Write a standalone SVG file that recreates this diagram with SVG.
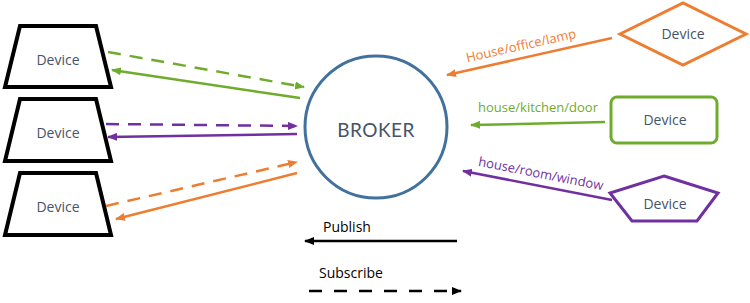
<svg xmlns="http://www.w3.org/2000/svg" width="750" height="303" viewBox="0 0 750 303">
<style>
.lbl{font-family:"Open Sans","Noto Sans",sans-serif;font-size:14px;fill:#44546A;text-anchor:middle}
.trap{fill:#fff;stroke:#000;stroke-width:4;stroke-linejoin:miter}
.ln{fill:none;stroke-width:2.5}
.dash{stroke-dasharray:13 9}
.g{stroke:#6FAC2E}.p{stroke:#7030A0}.o{stroke:#ED7D31}.k{stroke:#000}
.topic{font-family:"Open Sans","Noto Sans",sans-serif;font-size:13px}
.leg{font-family:"Open Sans","Noto Sans",sans-serif;font-size:14px;fill:#000}
</style>
<defs>
<marker id="ag" markerUnits="userSpaceOnUse" markerWidth="10" markerHeight="8" refX="9" refY="4" orient="auto"><path d="M0,0L10,4L0,8Z" fill="#6FAC2E"/></marker>
<marker id="ap" markerUnits="userSpaceOnUse" markerWidth="10" markerHeight="8" refX="9" refY="4" orient="auto"><path d="M0,0L10,4L0,8Z" fill="#7030A0"/></marker>
<marker id="ao" markerUnits="userSpaceOnUse" markerWidth="10" markerHeight="8" refX="9" refY="4" orient="auto"><path d="M0,0L10,4L0,8Z" fill="#ED7D31"/></marker>
<marker id="ak" markerUnits="userSpaceOnUse" markerWidth="10" markerHeight="8" refX="9" refY="4" orient="auto"><path d="M0,0L10,4L0,8Z" fill="#000"/></marker>
</defs>
<rect width="750" height="303" fill="#fff"/>
<g id="broker">
<circle cx="376" cy="127" r="71" fill="#fff" stroke="#41719C" stroke-width="3"/>
<text x="376" y="137" font-family="Lato,'Noto Sans',sans-serif" font-size="19" fill="#44546A" text-anchor="middle" letter-spacing="0.5">BROKER</text>
</g>
<g id="device-left-1"><path class="trap" d="M20,26H96L111,87H5Z"/><text class="lbl" x="58" y="65">Device</text></g>
<g id="device-left-2"><path class="trap" d="M20,99H96L111,161H5Z"/><text class="lbl" x="58" y="138">Device</text></g>
<g id="device-left-3"><path class="trap" d="M20,173H96L111,235H5Z"/><text class="lbl" x="58" y="212">Device</text></g>
<g id="device-lamp"><path d="M620,34L683,3L746,34L683,65Z" fill="#fff" stroke="#ED7D31" stroke-width="3"/><text class="lbl" x="683" y="39">Device</text></g>
<g id="device-door"><rect x="611" y="97" width="106" height="46" rx="6" fill="#fff" stroke="#6FAC2E" stroke-width="3"/><text class="lbl" x="665" y="125">Device</text></g>
<g id="device-window"><path d="M664,176L718,193L697,221L632,221L610,193Z" fill="#fff" stroke="#7030A0" stroke-width="3"/><text class="lbl" x="665" y="209">Device</text></g>
<g id="connectors">
<line class="ln dash g" x1="108" y1="52" x2="304" y2="87" marker-end="url(#ag)"/>
<line class="ln g" x1="300" y1="98" x2="112" y2="70" marker-end="url(#ag)"/>
<line class="ln dash p" x1="106" y1="124" x2="297" y2="126" marker-end="url(#ap)"/>
<line class="ln p" x1="297" y1="134" x2="108" y2="137" marker-end="url(#ap)"/>
<line class="ln dash o" x1="106" y1="206" x2="297" y2="162" marker-end="url(#ao)"/>
<line class="ln o" x1="297" y1="173" x2="116" y2="219" marker-end="url(#ao)"/>
<line class="ln o" x1="612" y1="38" x2="447" y2="75" marker-end="url(#ao)"/>
<line class="ln g" x1="605" y1="122" x2="471" y2="125" marker-end="url(#ag)"/>
<line class="ln p" x1="612" y1="200" x2="463" y2="171" marker-end="url(#ap)"/>
<text class="topic" fill="#ED7D31" text-anchor="middle" transform="translate(522,50) rotate(-12.6)">House/office/lamp</text>
<text class="topic" fill="#6FAC2E" text-anchor="middle" x="538" y="112">house/kitchen/door</text>
<text class="topic" fill="#7030A0" text-anchor="middle" transform="translate(540,178) rotate(11.2)">house/room/window</text>
</g>
<g id="legend">
<line class="ln k" x1="457" y1="241" x2="305" y2="241" marker-end="url(#ak)"/>
<text class="leg" x="323" y="232">Publish</text>
<line class="ln k" x1="309" y1="291" x2="461" y2="291" stroke-dasharray="13 12" marker-end="url(#ak)"/>
<text class="leg" x="319" y="278">Subscribe</text>
</g>
</svg>
